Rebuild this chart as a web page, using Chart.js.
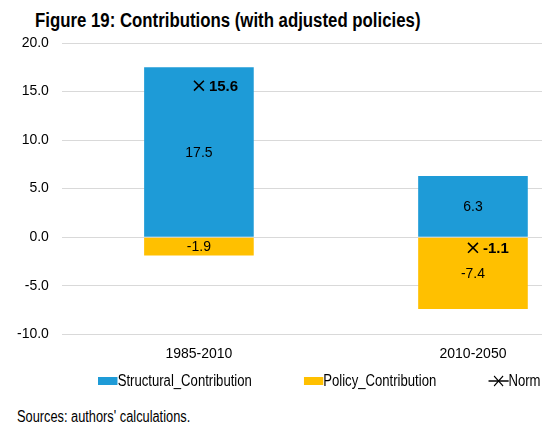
<!DOCTYPE html>
<html>
<head>
<meta charset="utf-8">
<script src="https://cdn.jsdelivr.net/npm/chart.js@4/dist/chart.umd.min.js"></script>
<style>
  html,body{margin:0;padding:0;background:#fff;}
  body{width:542px;height:430px;overflow:hidden;position:relative;font-family:"Liberation Sans",Arial,sans-serif;color:#000;}
  .fig-title{position:absolute;left:35px;top:9px;font-size:20px;font-weight:bold;white-space:nowrap;transform:scaleX(0.84);transform-origin:0 0;}
  .plot-wrap{position:absolute;left:0;top:0;width:542px;height:378px;overflow:hidden;}
  .legend{position:absolute;left:98px;top:372px;display:flex;align-items:center;gap:63px;font-size:16px;white-space:nowrap;transform:scaleX(0.82);transform-origin:0 0;z-index:2;}
  .legend-item{display:flex;align-items:center;}
  .legend-item svg{display:block;}
  .source{position:absolute;left:17px;top:408px;font-size:16px;white-space:nowrap;transform:scaleX(0.8);transform-origin:0 0;}
</style>
</head>
<body>
<div class="fig-title">Figure 19: Contributions (with adjusted policies)</div>
<div class="plot-wrap"><canvas id="chart" width="620" height="378"></canvas></div>
<div class="legend" id="legend"></div>
<div class="source">Sources: authors' calculations.</div>
<script>
(function () {
  'use strict';

  /* data */
  var periods     = ['1985-2010', '2010-2050'];
  var structural  = [17.5, 6.3];
  var policy      = [-1.9, -7.4];
  var norm        = [15.6, -1.1];
  var yTicks      = [-10, -5, 0, 5, 10, 15, 20];

  var BLUE = '#1E9BD7', GOLD = '#FFC000';
  var FONT = '"Liberation Sans",Arial,sans-serif';

  /* value labels: centred in bars, bold to the right of the norm marks */
  var valueLabels = {
    id: 'valueLabels',
    afterDatasetsDraw: function (chart) {
      var ctx = chart.ctx;
      ctx.save();
      ctx.fillStyle = '#000';
      ctx.textBaseline = 'middle';
      chart.data.datasets.forEach(function (ds, i) {
        var meta = chart.getDatasetMeta(i);
        meta.data.forEach(function (el, j) {
          var v = ds.data[j].toFixed(1);
          if (ds.type === 'line') {
            ctx.font = 'bold 15px ' + FONT;
            ctx.textAlign = 'left';
            ctx.fillText(v, el.x + 10, el.y + 1);
          } else {
            var c = el.getCenterPoint();
            ctx.font = '14px ' + FONT;
            ctx.textAlign = 'center';
            ctx.fillText(v, c.x, c.y + 1);
          }
        });
      });
      ctx.restore();
    }
  };

  var chart = new Chart(document.getElementById('chart'), {
    type: 'bar',
    data: {
      labels: periods,
      datasets: [
        { label: 'Structural_Contribution', data: structural, backgroundColor: BLUE,
          barPercentage: 0.4, categoryPercentage: 1 },
        { label: 'Policy_Contribution', data: policy, backgroundColor: GOLD,
          barPercentage: 0.4, categoryPercentage: 1 },
        { label: 'Norm', type: 'line', data: norm, stack: 'norm', order: -1,
          showLine: false, pointStyle: 'crossRot', pointRadius: 7, pointHoverRadius: 7,
          borderColor: '#000', backgroundColor: '#000', pointBorderWidth: 1.6 }
      ]
    },
    options: {
      responsive: false,
      animation: false,
      layout: { padding: { top: 43, left: 4, right: 10, bottom: 3 } },
      plugins: { legend: { display: false }, tooltip: { enabled: false }, title: { display: false } },
      scales: {
        x: {
          stacked: true,
          grid: { display: false, drawTicks: false },
          border: { display: false },
          ticks: { color: '#000', padding: 12, font: { family: FONT, size: 14 } }
        },
        y: {
          stacked: true,
          min: -10, max: 20,
          afterBuildTicks: function (s) { s.ticks = yTicks.map(function (v) { return { value: v }; }); },
          grid: { color: '#D9D9D9', drawTicks: false, lineWidth: 1 },
          border: { display: false },
          ticks: { color: '#000', padding: 13, font: { family: FONT, size: 14 },
                   callback: function (v) { return Number(v).toFixed(1); } }
        }
      }
    },
    plugins: [valueLabels]
  });

  /* html legend built from the datasets */
  var lg = document.getElementById('legend');
  chart.data.datasets.forEach(function (ds) {
    var item = document.createElement('div');
    item.className = 'legend-item';
    var sw;
    if (ds.type === 'line') {
      sw = '<svg width="25" height="14"><line x1="0" y1="7" x2="25" y2="7" stroke="#000" stroke-width="1.3"/>' +
           '<path d="M7 2 L18 12 M18 2 L7 12" stroke="#000" stroke-width="1.3"/></svg>';
    } else {
      sw = '<svg width="24" height="8"><rect x="0" y="0" width="24" height="8" fill="' + ds.backgroundColor + '"/></svg>';
    }
    item.innerHTML = sw + '<span>' + ds.label + '</span>';
    lg.appendChild(item);
  });
})();
</script>
</body>
</html>
